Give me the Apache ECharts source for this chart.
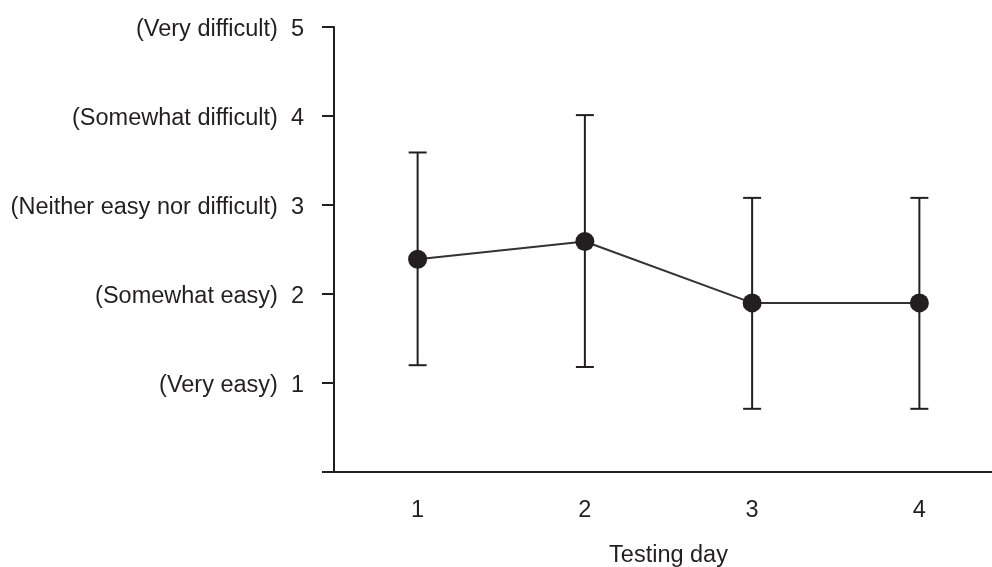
<!DOCTYPE html>
<html>
<head>
<meta charset="utf-8">
<script src="https://cdn.jsdelivr.net/npm/echarts@6/dist/echarts.min.js"></script>
<style>
html,body{margin:0;padding:0;background:#fff;}
#chart{width:992px;height:567px;}
</style>
</head>
<body>
<div id="chart"></div>
<script>
var days = ['1', '2', '3', '4'];
var means = [2.39, 2.59, 1.90, 1.90];
var lower = [1.20, 1.18, 0.71, 0.71];
var upper = [3.59, 4.01, 3.08, 3.08];
var yTickValues = [1, 2, 3, 4, 5];
var yTickNames = ['(Very easy)', '(Somewhat easy)', '(Neither easy nor difficult)', '(Somewhat difficult)', '(Very difficult)'];
var xAxisTitle = 'Testing day';

var ink = '#231f20';
var fontFam = 'Arial, "Liberation Sans", Helvetica, sans-serif';
var fs = 23.5;

var errData = days.map(function (d, i) { return [i, lower[i], upper[i]]; });

var chart = echarts.init(document.getElementById('chart'), null, {renderer: 'canvas'});
chart.setOption({
  animation: false,
  backgroundColor: '#fff',
  grid: {left: 334, top: 27, width: 669, height: 445, containLabel: false, outerBoundsMode: 'none'},
  xAxis: {
    type: 'category',
    data: days,
    boundaryGap: true,
    axisLine: {lineStyle: {color: ink, width: 2}},
    axisTick: {alignWithLabel: true, length: 12, lineStyle: {color: ink, width: 2}},
    axisLabel: {color: ink, fontSize: fs, fontFamily: fontFam, margin: 27},
    splitLine: {show: false},
    name: xAxisTitle,
    nameLocation: 'middle',
    nameGap: 72,
    nameTextStyle: {color: ink, fontSize: fs, fontFamily: fontFam}
  },
  yAxis: {
    type: 'value',
    min: 0, max: 5, interval: 1,
    axisLine: {show: true, lineStyle: {color: ink, width: 2}},
    axisTick: {show: true, length: 12, lineStyle: {color: ink, width: 2}},
    splitLine: {show: false},
    axisLabel: {
      margin: 30,
      color: ink,
      fontSize: fs,
      fontFamily: fontFam,
      formatter: function (v) {
        var idx = yTickValues.indexOf(v);
        if (idx < 0) return '';
        return '{a|' + yTickNames[idx] + '}{b|' + v + '}';
      },
      rich: {
        a: {color: ink, fontSize: fs, fontFamily: fontFam, padding: [6, 13, 0, 0]},
        b: {color: ink, fontSize: fs, fontFamily: fontFam, padding: [6, 0, 0, 0]}
      }
    }
  },
  series: [
    {
      type: 'custom',
      data: errData,
      z: 2,
      renderItem: function (params, api) {
        var x = api.value(0);
        var lo = api.coord([x, api.value(1)]);
        var hi = api.coord([x, api.value(2)]);
        var hw = 9;
        var st = {stroke: ink, lineWidth: 2};
        return {
          type: 'group',
          children: [
            {type: 'line', shape: {x1: lo[0], y1: lo[1], x2: hi[0], y2: hi[1]}, style: st},
            {type: 'line', shape: {x1: lo[0] - hw, y1: lo[1], x2: lo[0] + hw, y2: lo[1]}, style: st},
            {type: 'line', shape: {x1: hi[0] - hw, y1: hi[1], x2: hi[0] + hw, y2: hi[1]}, style: st}
          ]
        };
      }
    },
    {
      type: 'line',
      data: means,
      z: 3,
      symbol: 'circle',
      symbolSize: 19,
      itemStyle: {color: ink},
      lineStyle: {color: '#333', width: 2}
    }
  ]
});
</script>
</body>
</html>
